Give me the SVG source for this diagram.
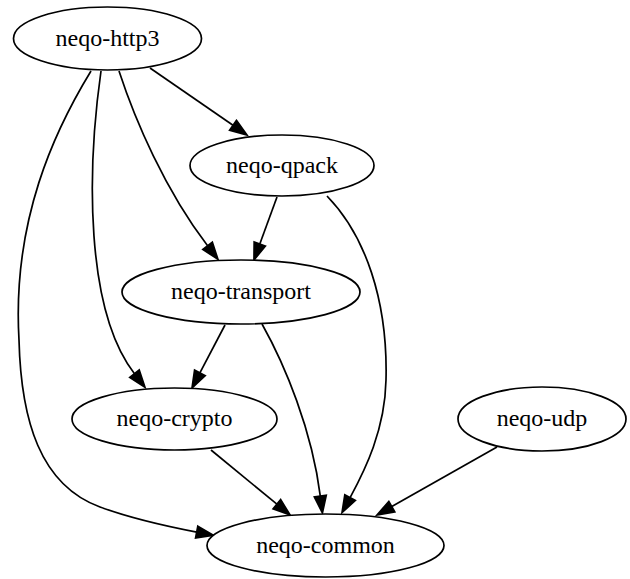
<svg xmlns="http://www.w3.org/2000/svg" width="630" height="579" viewBox="0 0 630 579">
<style>
.node ellipse{fill:#ffffff;stroke:#000000;stroke-width:1.7}
.node text{font-family:"Liberation Serif","Times New Roman",serif;font-size:24px;fill:#000000;text-anchor:middle}
.edge{fill:none;stroke:#000000;stroke-width:1.7;marker-end:url(#arrow)}
</style>
<defs>
<marker id="arrow" markerUnits="userSpaceOnUse" viewBox="0 -8 19 16" refX="0" refY="0" markerWidth="19" markerHeight="16" orient="auto" overflow="visible">
<path d="M0,-6 L17,0 L0,6 Z" fill="#000000" stroke="#000000" stroke-width="1.7"/>
</marker>
</defs>
<rect width="630" height="579" fill="#ffffff"/>
<g id="connectors">
<path class="edge" d="M150,68 L233,125.3"/>
<path class="edge" d="M119,71 C135,120 165,190 207.6,245.8"/>
<path class="edge" d="M101,71 C87,170 85,310 134.5,373.7"/>
<path class="edge" d="M91,71 C55,130 12,220 19,340 C21,420 40,485 100,507 C130,518 165,526 196.7,532.1"/>
<path class="edge" d="M277,197 L259.8,244"/>
<path class="edge" d="M327,196 C365,235 388,300 386,380 C385,430 365,470 350.1,497.6"/>
<path class="edge" d="M225,325 L199.9,372.9"/>
<path class="edge" d="M262,324 C285,365 312,430 320.3,496.1"/>
<path class="edge" d="M211,450 L276.9,504.2"/>
<path class="edge" d="M497,447 L391.8,506.6"/>
</g>
<g id="neqo-http3" class="node"><ellipse cx="107.5" cy="38.5" rx="94" ry="31.5"/><text x="107.5" y="45.5">neqo-http3</text></g>
<g id="neqo-qpack" class="node"><ellipse cx="282" cy="165.5" rx="92" ry="30.5"/><text x="282" y="172.5">neqo-qpack</text></g>
<g id="neqo-transport" class="node"><ellipse cx="241" cy="292" rx="119" ry="32"/><text x="241" y="299">neqo-transport</text></g>
<g id="neqo-crypto" class="node"><ellipse cx="174.5" cy="419" rx="102.5" ry="31"/><text x="174.5" y="426">neqo-crypto</text></g>
<g id="neqo-udp" class="node"><ellipse cx="542" cy="419" rx="84" ry="32"/><text x="542" y="426">neqo-udp</text></g>
<g id="neqo-common" class="node"><ellipse cx="325.5" cy="545.5" rx="118.5" ry="31.5"/><text x="325.5" y="552.5">neqo-common</text></g>
</svg>
